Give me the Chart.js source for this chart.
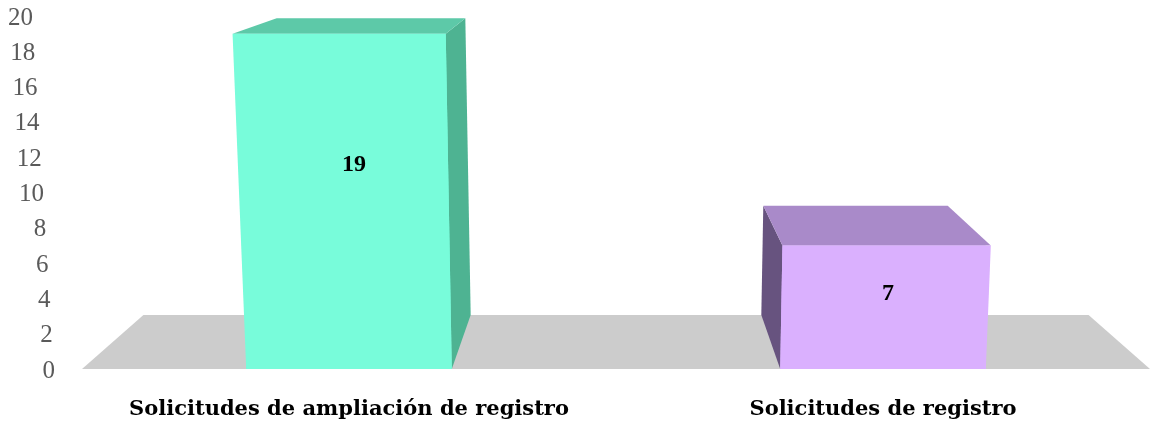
<!DOCTYPE html>
<html>
<head>
  <title>Solicitudes</title>
  <script src="https://cdn.jsdelivr.net/npm/chart.js"></script>
  <style>
    body { margin: 0; background: #fff; }
  </style>
</head>
<body>
  <canvas id="myChart" width="1153" height="421"></canvas>
  <script>
    // data
    const categories = ['Solicitudes de ampliación de registro', 'Solicitudes de registro'];
    const values = [19, 7];
    const yTicks = [0, 2, 4, 6, 8, 10, 12, 14, 16, 18, 20];

    // colours: front, top, side
    const frontColors = ['#78FCDA', '#DAB0FE'];
    const topColors = ['#5DC9A8', '#A98AC9'];
    const sideColors = ['#4EB392', '#67537F'];

    // fake 3d perspective
    const VP = { x: 616, y: -100 };
    const DEPTH = 0.115;
    const WARP = 0.00011;
    const back = p => ({ x: p.x + DEPTH * (VP.x - p.x), y: p.y + DEPTH * (VP.y - p.y) });
    const warp = (x, y, base) => ({ x: VP.x + (x - VP.x) * (1 + WARP * (base - y)), y: y });

    function poly(ctx, pts, color) {
      ctx.beginPath();
      ctx.moveTo(pts[0].x, pts[0].y);
      for (let i = 1; i < pts.length; i++) ctx.lineTo(pts[i].x, pts[i].y);
      ctx.closePath();
      ctx.fillStyle = color;
      ctx.fill();
    }

    const fake3d = {
      id: 'fake3d',
      beforeDatasetsDraw(chart) {
        const ctx = chart.ctx;
        const a = chart.chartArea;
        const bl = { x: a.left, y: a.bottom };
        const br = { x: a.right, y: a.bottom };
        ctx.save();
        poly(ctx, [bl, br, back(br), back(bl)], '#CCCCCC');
        ctx.restore();
      },
      afterDatasetsDraw(chart) {
        const ctx = chart.ctx;
        const yScale = chart.scales.y;
        const meta = chart.getDatasetMeta(0);
        ctx.save();
        meta.data.forEach((bar, i) => {
          const p = bar.getProps(['x', 'y', 'base', 'width'], true);
          const l = p.x - p.width / 2, r = p.x + p.width / 2;
          const fbl = { x: l, y: p.base }, fbr = { x: r, y: p.base };
          const ftl = warp(l, p.y, p.base), ftr = warp(r, p.y, p.base);
          if (p.x < VP.x) {
            poly(ctx, [ftr, back(ftr), back(fbr), fbr], sideColors[i]);
          } else {
            poly(ctx, [ftl, back(ftl), back(fbl), fbl], sideColors[i]);
          }
          poly(ctx, [ftl, ftr, back(ftr), back(ftl)], topColors[i]);
          poly(ctx, [fbl, fbr, ftr, ftl], frontColors[i]);

          ctx.fillStyle = '#000';
          ctx.font = 'bold 24px "Liberation Serif"';
          ctx.textAlign = 'center';
          ctx.textBaseline = 'middle';
          ctx.fillText(String(values[i]), p.x + 5, yScale.getPixelForValue(values[i] * 0.61));
        });
        ctx.restore();
      },
      afterDraw(chart) {
        const ctx = chart.ctx;
        const a = chart.chartArea;
        const yScale = chart.scales.y;
        ctx.save();
        ctx.fillStyle = '#5A5A5A';
        ctx.font = '25px "Liberation Serif"';
        ctx.textAlign = 'right';
        ctx.textBaseline = 'middle';
        yTicks.forEach(v => {
          ctx.fillText(String(v), a.left - 27 - v * 1.1, yScale.getPixelForValue(v) + 2);
        });
        ctx.restore();
      }
    };

    var ctx = document.getElementById('myChart').getContext('2d');
    var myChart = new Chart(ctx, {
      type: 'bar',
      data: {
        labels: categories,
        datasets: [{
          data: values,
          backgroundColor: frontColors,
          categoryPercentage: 1,
          barPercentage: 0.385
        }]
      },
      options: {
        responsive: false,
        animation: false,
        layout: { padding: { left: 82, right: 3, top: 16, bottom: 0 } },
        plugins: {
          legend: { display: false },
          tooltip: { enabled: false }
        },
        scales: {
          x: {
            grid: { display: false },
            border: { display: false },
            afterFit: scale => { scale.height = 52; },
            ticks: {
              color: '#000',
              padding: 20,
              maxRotation: 0,
              font: { family: 'DejaVu Serif', size: 21, weight: 'bold' }
            }
          },
          y: {
            display: false,
            min: 0,
            max: 20
          }
        }
      },
      plugins: [fake3d]
    });
  </script>
</body>
</html>
